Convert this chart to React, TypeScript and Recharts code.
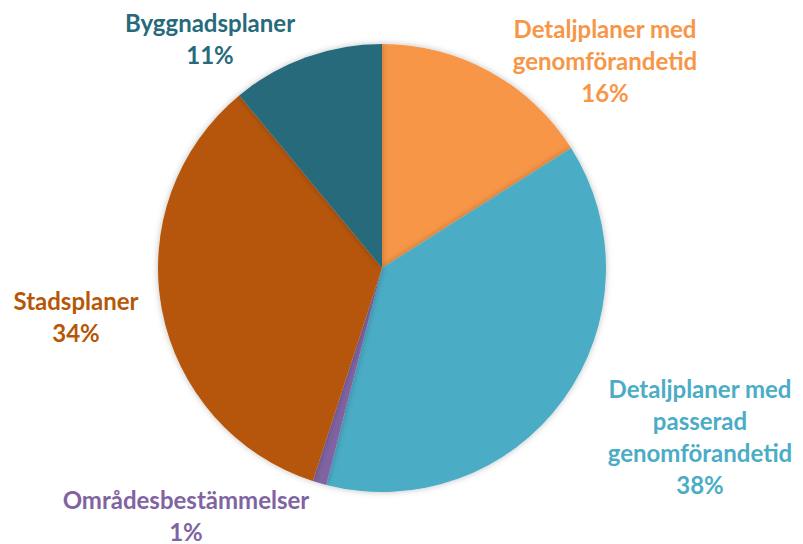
import React from "react";
import { PieChart, Pie, Cell } from "recharts";

const categories = [
  "Detaljplaner med genomförandetid",
  "Detaljplaner med passerad genomförandetid",
  "Områdesbestämmelser",
  "Stadsplaner",
  "Byggnadsplaner",
];
const labelLines = [
  ["Detaljplaner med", "genomförandetid"],
  ["Detaljplaner med", "passerad", "genomförandetid"],
  ["Områdesbestämmelser"],
  ["Stadsplaner"],
  ["Byggnadsplaner"],
];
const shares = [16, 38, 1, 34, 11];
const colors = ["#F79646", "#4BACC6", "#8064A2", "#B65708", "#276A7C"];

// label block centre offsets from the pie centre (layout only)
const labelOffsets = [
  [223, -208],
  [318, 168],
  [-196, 247],
  [-306, 48],
  [-172, -230],
];
const LINE_H = 32;

const data = categories.map((name, i) => ({ name, value: shares[i] }));

const renderLabel = (props: any) => {
  const { cx, cy, index } = props;
  const lines = [...labelLines[index], `${shares[index]}%`];
  const [dx, dy] = labelOffsets[index];
  const x = cx + dx;
  const top = cy + dy - ((lines.length - 1) * LINE_H) / 2;
  return (
    <text
      key={`lbl-${index}`}
      x={x}
      y={top}
      textAnchor="middle"
      dominantBaseline="central"
      fill={colors[index]}
      fontFamily="Lato, 'Open Sans', sans-serif"
      fontWeight="bold"
      fontSize={24}
    >
      {lines.map((l, k) => (
        <tspan key={k} x={x} y={top + k * LINE_H}>
          {l}
        </tspan>
      ))}
    </text>
  );
};

export default function App() {
  return (
    <div style={{ position: "absolute", left: 0, top: 0, background: "#fff" }}>
      <PieChart width={803} height={544} margin={{ top: 0, right: 0, bottom: 0, left: 0 }}>
        <defs>
          <filter id="sh" x="-10%" y="-10%" width="120%" height="120%">
            <feDropShadow dx="0" dy="0" stdDeviation="3" floodColor="#000" floodOpacity="0.25" />
          </filter>
        </defs>
        <Pie
          data={data}
          dataKey="value"
          nameKey="name"
          cx={382}
          cy={268}
          outerRadius={224}
          startAngle={90}
          endAngle={-270}
          stroke="none"
          label={renderLabel}
          labelLine={false}
          isAnimationActive={false}
          style={{ filter: "url(#sh)" }}
        >
          {data.map((d, i) => (
            <Cell key={d.name} fill={colors[i]} />
          ))}
        </Pie>
      </PieChart>
    </div>
  );
}
